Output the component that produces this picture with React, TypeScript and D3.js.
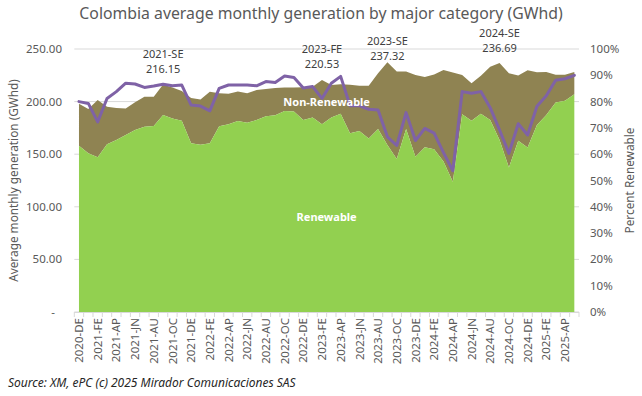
import React from "react";
import * as d3 from "d3";

// ---------- data ----------
const monthCodes = ["JA", "FE", "MR", "AP", "MY", "JN", "JL", "AU", "SE", "OC", "NO", "DE"];
const startYear = 2020;
const startMonthIndex = 11; // December

// Renewable generation (GWhd), Dec-2020 .. May-2025
const renewable = [
  158, 151, 147, 159.5, 163.5, 168.3, 173, 176, 176.8, 187.3, 184, 181.8,
  160.3, 159, 160.3, 176.5, 178.5, 181.5, 180, 182.5, 186, 187, 191, 190.5,
  182.5, 185, 178.5, 185, 188.5, 170, 172, 165, 174, 158.7, 145.5, 174,
  147.6, 156.7, 154.8, 143, 123.9, 188, 181.7, 188.5, 182.5, 163.5, 137.3, 162.7,
  156.3, 177.8, 187.3, 199.2, 200.8, 207,
];

// Total generation (renewable + non-renewable), GWhd
const total = [
  198, 193, 201.5, 195, 194, 193.5, 199.5, 204.5, 204.7, 216.15, 213.5, 210,
  203.5, 202, 209.4, 208, 207.5, 209.5, 208, 211, 212, 213, 213.4, 213.4,
  213.7, 214, 220.53, 215.8, 216.5, 216, 215, 215, 226.9, 237.32, 228.5, 228.5,
  225.3, 223.4, 225.7, 230, 227.7, 225.3, 217.4, 224.5, 233.2, 236.69, 226.9, 224.8,
  229.7, 228, 228.2, 225.6, 225.6, 228.2,
];

// Percent renewable (right axis)
const percentRenewable = [
  0.8, 0.793, 0.723, 0.812, 0.838, 0.87, 0.867, 0.854, 0.859, 0.866, 0.86, 0.863,
  0.787, 0.783, 0.765, 0.85, 0.863, 0.863, 0.863, 0.86, 0.876, 0.873, 0.897, 0.892,
  0.852, 0.857, 0.812, 0.87, 0.896, 0.784, 0.784, 0.771, 0.768, 0.666, 0.633, 0.758,
  0.652, 0.698, 0.68, 0.606, 0.537, 0.838, 0.832, 0.838, 0.777, 0.692, 0.603, 0.716,
  0.673, 0.782, 0.822, 0.881, 0.887, 0.9,
];

const categories = renewable.map((_, i) => {
  const m = startMonthIndex + i;
  return `${startYear + Math.floor(m / 12)}-${monthCodes[m % 12]}`;
});

const leftTicks = [0, 50, 100, 150, 200, 250];
const rightTicks = [0, 0.1, 0.2, 0.3, 0.4, 0.5, 0.6, 0.7, 0.8, 0.9, 1];
const highlightMonths = ["2021-SE", "2023-FE", "2023-SE", "2024-SE"];

// ---------- style ----------
const W = 642;
const H = 396;
const FONT = "'Noto Sans', 'DejaVu Sans', sans-serif";
const GREEN = "#92D050";
const OLIVE = "#8F8352";
const PURPLE = "#7F62A6";
const GRID = "#D9D9D9";
const TXT = "#595959";
const labelGap = [12, 12, 2.3, 11.5];

export default function App() {
  const plot = { left: 74.3, right: 579, top: 49, bottom: 312 };

  const x = d3
    .scalePoint<string>()
    .domain(categories)
    .range([plot.left, plot.right])
    .padding(0.5);
  const step = x.step();
  const y = d3.scaleLinear().domain([0, 250]).range([plot.bottom, plot.top]);
  const yP = d3.scaleLinear().domain([0, 1]).range([plot.bottom, plot.top]);

  const idx = d3.range(categories.length);

  const greenArea = d3
    .area<number>()
    .x((i) => x(categories[i]) as number)
    .y0(() => y(0))
    .y1((i) => y(renewable[i]));
  const oliveArea = d3
    .area<number>()
    .x((i) => x(categories[i]) as number)
    .y0((i) => y(renewable[i]))
    .y1((i) => y(total[i]));
  const pctLine = d3
    .line<number>()
    .x((i) => x(categories[i]) as number)
    .y((i) => yP(percentRenewable[i]));

  const tickXs = idx.map((i) => (x(categories[i]) as number) - step / 2);
  tickXs.push((x(categories[categories.length - 1]) as number) + step / 2);

  const fmtLeft = (v: number) => (v === 0 ? "-" : d3.format(".2f")(v));
  const plotMidY = (plot.top + plot.bottom) / 2;
  const plotMidX = (plot.left + plot.right) / 2;

  return (
    <div style={{ position: "absolute", left: 0, top: 0 }}>
      <svg width={W} height={H} style={{ display: "block", background: "#fff" }} fontFamily={FONT}>
        {/* title */}
        <text x={W / 2} y={19} textAnchor="middle" fontSize={15.8} fill={TXT}>
          Colombia average monthly generation by major category (GWhd)
        </text>

        {/* gridlines */}
        {leftTicks.map((t) => (
          <line key={t} x1={plot.left} x2={plot.right} y1={y(t)} y2={y(t)} stroke={GRID} strokeWidth={1} />
        ))}

        {/* areas */}
        <path d={oliveArea(idx) || ""} fill={OLIVE} />
        <path d={greenArea(idx) || ""} fill={GREEN} />

        {/* x axis */}
        <line x1={plot.left} x2={plot.right} y1={plot.bottom + 0.5} y2={plot.bottom + 0.5} stroke={GRID} />
        {tickXs.map((tx, i) => (
          <line key={i} x1={tx} x2={tx} y1={plot.bottom} y2={plot.bottom + 5} stroke={GRID} />
        ))}
        {categories.map((c, i) =>
          i % 2 === 0 ? (
            <text
              key={c}
              transform={`translate(${x(c)},${plot.bottom + 6}) rotate(-90)`}
              textAnchor="end"
              dy="0.36em"
              fontSize={11.5}
              fill={TXT}
            >
              {c}
            </text>
          ) : null
        )}

        {/* percent line */}
        <path d={pctLine(idx) || ""} fill="none" stroke={PURPLE} strokeWidth={3} strokeLinejoin="round" strokeLinecap="round" />

        {/* left axis labels */}
        {leftTicks.map((t) => (
          <text
            key={t}
            x={t === 0 ? 55 : 62}
            y={y(t)}
            dy="0.35em"
            textAnchor="end"
            fontSize={11.5}
            fill={TXT}
          >
            {fmtLeft(t)}
          </text>
        ))}

        {/* right axis labels */}
        {rightTicks.map((t) => (
          <text key={t} x={590} y={yP(t)} dy="0.35em" textAnchor="start" fontSize={11.5} fill={TXT}>
            {d3.format(".0%")(t)}
          </text>
        ))}

        {/* axis titles */}
        <text
          transform={`translate(14,${plotMidY}) rotate(-90)`}
          textAnchor="middle"
          dy="0.35em"
          fontSize={11.8}
          fill={TXT}
        >
          Average monthly generation (GWhd)
        </text>
        <text
          transform={`translate(630,${plotMidY}) rotate(-90)`}
          textAnchor="middle"
          dy="0.35em"
          fontSize={11.8}
          fill={TXT}
        >
          Percent Renewable
        </text>

        {/* series labels */}
        <text x={plotMidX} y={106} textAnchor="middle" fontSize={11} fontWeight="bold" fill="#fff">
          Non-Renewable
        </text>
        <text x={plotMidX} y={221} textAnchor="middle" fontSize={11} fontWeight="bold" fill="#fff">
          Renewable
        </text>

        {/* peak annotations */}
        {highlightMonths.map((m, k) => {
          const i = categories.indexOf(m);
          const px = x(m) as number;
          const py = y(total[i]) - labelGap[k];
          return (
            <g key={m} fill="#404040" fontSize={11} textAnchor="middle">
              <text x={px} y={py - 15}>{m}</text>
              <text x={px} y={py}>{d3.format(".2f")(total[i])}</text>
            </g>
          );
        })}

        {/* source */}
        <text x={8} y={387} fontSize={12} fontStyle="italic" fill="#262626">
          Source: XM, ePC (c) 2025 Mirador Comunicaciones SAS
        </text>
      </svg>
    </div>
  );
}
